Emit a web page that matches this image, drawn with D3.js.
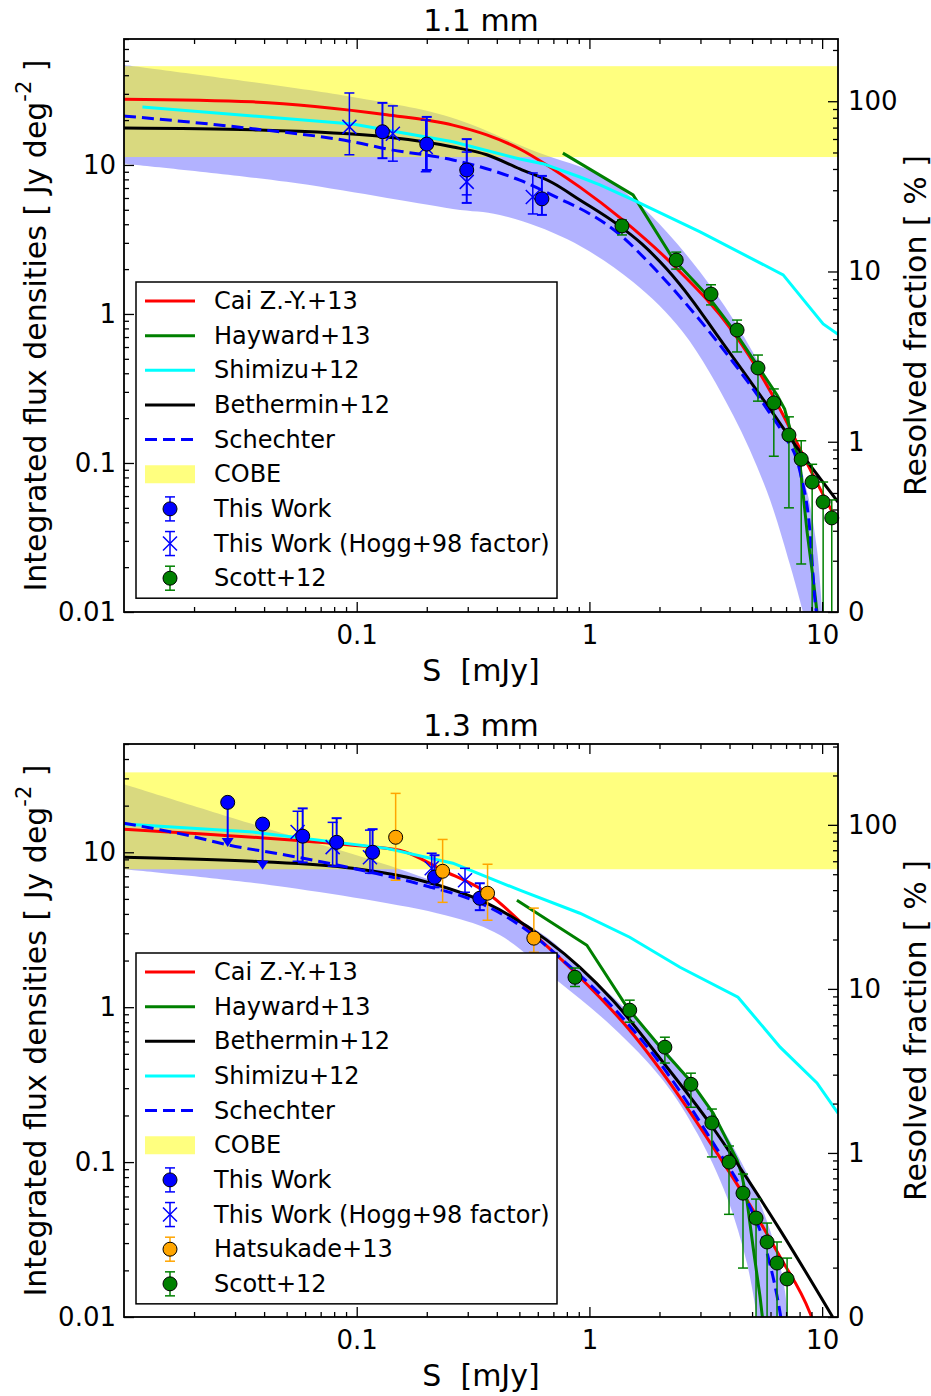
<!DOCTYPE html>
<html><head><meta charset="utf-8">
<script src="https://cdn.jsdelivr.net/npm/d3@7"></script>
<style>body{margin:0;background:#fff} text{font-family:"DejaVu Sans",sans-serif;fill:#000}</style>
</head><body><svg id="c" width="931" height="1396"></svg>
<script>
// ---------- tick labels ----------
const xTickValues = [0.1, 1, 10];
const xTickLabels = ["0.1", "1", "10"];
const yTickValues = [0.01, 0.1, 1, 10];
const yTickLabels = ["0.01", "0.1", "1", "10"];
const rTickValues = [0.1, 1, 10, 100];
const rTickLabels = ["0", "1", "10", "100"];

// ---------- 1.1 mm panel ----------
const cobe11 = [11.3, 46];
const bandU11 = [[0.01,46.9],[0.096,28.6],[0.251,21.0],[0.594,12.2],[1.11,8.57],[1.54,5.92],[2.15,3.55],[2.99,1.91],[4.14,0.925],[5.8,0.366],[7.28,0.161],[8.62,0.064],[9.5,0.0265],[10,0.01]];
const bandL11 = [[0.01,10.2],[0.05,7.7],[0.259,5.07],[0.412,4.62],[0.8,3.18],[1.54,1.64],[2.52,0.757],[4.14,0.21],[5.8,0.064],[7.28,0.0207],[8.28,0.01]];
const cai11 = [[0.01,27.6],[0.0357,26.5],[0.1345,21.7],[0.259,18.5],[0.362,15.9],[0.502,12.8],[0.697,9.4],[0.91,7.1],[1.39,4.28],[2.29,2.13],[4.14,0.757],[6.8,0.21],[8.04,0.124],[9.8,0.067],[11.7,0.040]];
const hayward11 = [[0.769,12.0],[1.54,6.29],[2.29,2.34],[3.2,1.34],[4.14,0.79],[5.25,0.455],[6.4,0.286],[6.9,0.23],[8.04,0.097],[8.62,0.0344],[9.15,0.0167],[9.5,0.01]];
const shimizu11 = [[0.012,24.5],[0.096,18.8],[0.259,14.3],[0.502,10.97],[0.631,10.2],[0.91,8.3],[1.11,7.34],[1.54,5.82],[2.99,3.55],[6.8,1.83],[10.1,0.857],[11.7,0.73]];
const bethermin11 = [[0.01,17.7],[0.0357,17.2],[0.1345,15.4],[0.259,13.2],[0.362,11.7],[0.502,9.4],[0.697,7.57],[0.91,5.82],[1.31,4.02],[1.68,2.95],[2.15,2.0],[2.76,1.24],[3.53,0.723],[4.53,0.421],[5.8,0.245],[8.04,0.119],[11.7,0.0547]];
const schechter11 = [[0.01,21.3],[0.0357,17.5],[0.096,14.3],[0.1345,12.8],[0.259,10.8],[0.502,7.9],[0.746,5.92],[1.005,4.69],[1.31,3.55],[1.82,2.17],[2.52,1.24],[4.14,0.476],[5.8,0.23],[6.8,0.157],[8.04,0.087],[8.87,0.0344],[9.33,0.0117],[9.45,0.01]];
// [S, value, upper, lower]
const thisWork11 = [[0.129,16.7,26.1,11.1],[0.2,13.8,21.0,9.25],[0.297,9.25,14.9,5.56],[0.625,5.92,8.44,4.62]];
const hogg11 = [[0.093,18.0,30.4,11.7],[0.143,16.2,24.9,10.6],[0.198,13.2,20.0,9.0],[0.297,7.7,12.2,6.3],[0.571,6.1,8.83,4.69]];
const scott11 = [[1.38,3.9,4.28,3.39],[2.36,2.30,2.6,2.0],[3.33,1.36,1.57,1.15],[4.31,0.78,0.91,0.556],[5.3,0.434,0.53,0.26],[6.2,0.253,0.314,0.111],[7.2,0.154,0.204,0.05],[8.13,0.106,0.141,0.021],[9.06,0.0745,0.098,0.001],[10.1,0.0547,0.0745,0.001],[11.0,0.0428,0.0565,0.001]];
const legend11 = ["Cai Z.-Y.+13","Hayward+13","Shimizu+12","Bethermin+12","Schechter","COBE","This Work","This Work (Hogg+98 factor)","Scott+12"];

// ---------- 1.3 mm panel ----------
const cobe13 = [7.77, 32.8];
const bandU13 = [[0.01,27.5],[0.0357,15.2],[0.149,7.88],[0.338,4.9],[0.656,2.83],[0.91,1.81],[1.49,0.915],[2.45,0.41],[3.4,0.207],[4.75,0.085],[5.97,0.0364],[6.8,0.0173],[7.14,0.01]];
const bandL13 = [[0.01,7.77],[0.05,5.94],[0.259,3.81],[0.412,2.92],[0.724,1.49],[1.26,0.743],[2.07,0.338],[2.9,0.154],[3.9,0.0594],[4.75,0.0223],[5.25,0.01]];
const cai13 = [[0.01,14.1],[0.0357,12.5],[0.096,11.1],[0.153,10.3],[0.234,7.65],[0.365,5.44],[0.571,3.0],[0.91,1.56],[1.49,0.71],[2.45,0.262],[3.4,0.125],[4.75,0.0569],[6.6,0.0244],[8.87,0.0106],[9.5,0.008]];
const hayward13 = [[0.488,4.9],[0.975,2.51],[1.45,1.0],[2.07,0.528],[2.7,0.338],[3.4,0.207],[4.31,0.103],[4.5,0.085],[4.75,0.0569],[5.05,0.0283],[5.41,0.0135],[5.55,0.0097]];
const bethermin13 = [[0.01,9.29],[0.0357,8.75],[0.096,7.88],[0.187,6.6],[0.362,4.69],[0.656,2.71],[0.91,1.81],[1.26,1.11],[2.07,0.442],[3.4,0.166],[4.75,0.0788],[6.6,0.0364],[11.1,0.01]];
const shimizu13 = [[0.01,15.2],[0.0357,13.5],[0.1345,10.6],[0.259,8.5],[0.502,5.69],[0.91,4.04],[1.49,2.83],[2.45,1.81],[4.35,1.16],[6.6,0.552],[9.5,0.324],[11.7,0.207]];
const schechter13 = [[0.01,15.4],[0.0186,12.9],[0.0284,11.1],[0.05,9.57],[0.096,7.88],[0.187,6.22],[0.362,4.49],[0.502,3.38],[0.769,2.01],[1.26,1.0],[2.07,0.41],[3.4,0.133],[4.75,0.0569],[5.8,0.0259],[6.6,0.0106],[6.8,0.008]];
const thisWork13 = [[0.0586,12.7,19.2,8.6],[0.082,11.6,16.6,8.12],[0.117,10.0,14.1,7.33],[0.216,6.9,9.57,5.94],[0.338,5.05,6.31,4.23]];
// upper limits [S, value, arrow tip]
const limits13 = [[0.0279,21.0,10.8],[0.0394,15.2,7.7]];
const hogg13 = [[0.0557,13.5,18.4,8.75],[0.0788,10.8,15.6,8.12],[0.114,9.29,13.9,7.33],[0.21,7.88,9.86,6.31],[0.292,6.6,7.88,5.52]];
const hats13 = [[0.147,12.5,24.0,6.6],[0.234,7.54,12.1,4.75],[0.365,5.44,8.37,3.64],[0.577,2.79,4.36,2.26]];
const scott13 = [[0.867,1.56,1.79,1.36],[1.49,0.957,1.11,0.80],[2.11,0.552,0.64,0.436],[2.73,0.318,0.375,0.226],[3.36,0.179,0.22,0.108],[3.98,0.1,0.127,0.046],[4.57,0.063,0.0837,0.0207],[5.2,0.0435,0.0577,0.001],[5.8,0.0305,0.0404,0.001],[6.4,0.0223,0.0305,0.001],[7.07,0.0176,0.024,0.001]];
const legend13 = ["Cai Z.-Y.+13","Hayward+13","Bethermin+12","Shimizu+12","Schechter","COBE","This Work","This Work (Hogg+98 factor)","Hatsukade+13","Scott+12"];

// ---------- layout ----------
const X0 = 124, X1 = 838;
const xDomain = [0.01, 11.7];
const styles = {
  "Cai Z.-Y.+13": {type:"line", color:"#ff0000"},
  "Hayward+13": {type:"line", color:"#008000"},
  "Shimizu+12": {type:"line", color:"#00ffff"},
  "Bethermin+12": {type:"line", color:"#000000"},
  "Schechter": {type:"line", color:"#0000ff", dash:"12,6"},
  "COBE": {type:"patch"},
  "This Work": {type:"circle", color:"#0000ff"},
  "This Work (Hogg+98 factor)": {type:"cross", color:"#0000ff"},
  "Hatsukade+13": {type:"circle", color:"#ffa500"},
  "Scott+12": {type:"circle", color:"#008000"}
};

const panels = [
  {top:39, bottom:612, yDom:[0.01,70], rDom:[0.1,232], title:"1.1 mm", cobe:cobe11, bandU:bandU11, bandL:bandL11,
   lines:[["Cai Z.-Y.+13",cai11,true],["Hayward+13",hayward11,false],["Shimizu+12",shimizu11,false],["Bethermin+12",bethermin11,true],["Schechter",schechter11,true]],
   thisWork:thisWork11, limits:[], hogg:hogg11, hats:[], scott:scott11, legend:legend11, legTop:282},
  {top:744, bottom:1317, yDom:[0.01,50], rDom:[0.1,311], title:"1.3 mm", cobe:cobe13, bandU:bandU13, bandL:bandL13,
   lines:[["Cai Z.-Y.+13",cai13,true],["Hayward+13",hayward13,false],["Bethermin+12",bethermin13,true],["Shimizu+12",shimizu13,false],["Schechter",schechter13,true]],
   thisWork:thisWork13, limits:limits13, hogg:hogg13, hats:hats13, scott:scott13, legend:legend13, legTop:953}
];

const svg = d3.select("#c");
const x = d3.scaleLog().domain(xDomain).range([X0, X1]);

function minorTicks(dom){
  const out=[];
  for(let e=-3;e<=3;e++){
    for(let m=2;m<=9;m++){
      const v=m*Math.pow(10,e);
      if(v>=dom[0] && v<=dom[1]) out.push(v);
    }
  }
  return out;
}

panels.forEach((p,pi)=>{
  const y = d3.scaleLog().domain(p.yDom).range([p.bottom, p.top]);
  const r = d3.scaleLog().domain(p.rDom).range([p.bottom, p.top]);
  const g = svg.append("g");
  const cid = "clip"+pi;
  svg.append("clipPath").attr("id",cid).append("rect")
    .attr("x",X0).attr("y",p.top).attr("width",X1-X0).attr("height",p.bottom-p.top);
  const plot = g.append("g").attr("clip-path",`url(#${cid})`);

  // uncertainty band
  const lc = d3.line().x(d=>x(d[0])).y(d=>y(d[1])).curve(d3.curveCatmullRom.alpha(0.5));
  const bandPath = lc(p.bandU) + lc(p.bandL.slice().reverse()).replace(/^M/,"L") + "Z";
  plot.append("path").attr("d",bandPath).attr("fill","#0000ff").attr("fill-opacity",0.3).attr("stroke","none");
  // COBE
  plot.append("rect").attr("x",X0).attr("width",X1-X0)
    .attr("y",y(p.cobe[1])).attr("height",y(p.cobe[0])-y(p.cobe[1]))
    .attr("fill","#ffff00").attr("fill-opacity",0.5);

  // model lines
  p.lines.forEach(([name,data,smooth])=>{
    const st=styles[name];
    const ln=d3.line().x(d=>x(d[0])).y(d=>y(d[1])).curve(smooth?d3.curveMonotoneX:d3.curveLinear);
    plot.append("path").attr("d",ln(data)).attr("fill","none").attr("stroke",st.color)
      .attr("stroke-width",3).attr("stroke-dasharray",st.dash||null);
  });

  // error bars
  function errbars(data,color,lw){
    data.forEach(d=>{
      const cx=x(d[0]);
      plot.append("line").attr("x1",cx).attr("x2",cx).attr("y1",y(d[2])).attr("y2",y(d[3]))
        .attr("stroke",color).attr("stroke-width",lw);
      [d[2],d[3]].forEach(v=>{
        if(v>p.yDom[0]) plot.append("line").attr("x1",cx-5).attr("x2",cx+5).attr("y1",y(v)).attr("y2",y(v))
          .attr("stroke",color).attr("stroke-width",lw);
      });
    });
  }
  function circles(data,color){
    data.forEach(d=>{
      g.append("circle").attr("cx",x(d[0])).attr("cy",y(d[1])).attr("r",7)
        .attr("fill",color).attr("stroke","#000").attr("stroke-width",1);
    });
  }
  // Hogg crosses
  errbars(p.hogg,"#0000ff",1.5);
  p.hogg.forEach(d=>{
    const cx=x(d[0]), cy=y(d[1]);
    g.append("path").attr("d",`M${cx-7},${cy-7}L${cx+7},${cy+7}M${cx-7},${cy+7}L${cx+7},${cy-7}`)
      .attr("stroke","#0000ff").attr("stroke-width",1.5).attr("fill","none");
  });
  // upper limits
  p.limits.forEach(d=>{
    const cx=x(d[0]), cy=y(d[1]), ty=y(d[2]);
    g.append("line").attr("x1",cx).attr("x2",cx).attr("y1",cy).attr("y2",ty-8)
      .attr("stroke","#0000ff").attr("stroke-width",2);
    g.append("path").attr("d",`M${cx-6},${ty-9}L${cx+6},${ty-9}L${cx},${ty}Z`).attr("fill","#0000ff");
  });
  errbars(p.thisWork,"#0000ff",2);
  circles(p.limits,"#0000ff");
  circles(p.thisWork,"#0000ff");
  errbars(p.hats,"#ffa500",1.5);
  circles(p.hats,"#ffa500");
  errbars(p.scott,"#008000",1.5);
  circles(p.scott,"#008000");

  // axes
  const fs = "26px";
  const axB = g.append("g").attr("transform",`translate(0,${p.bottom})`)
    .call(d3.axisBottom(x).tickValues(xTickValues).tickFormat((d,i)=>xTickLabels[i]).tickSize(-10).tickPadding(14));
  const axBm = g.append("g").attr("transform",`translate(0,${p.bottom})`)
    .call(d3.axisBottom(x).tickValues(minorTicks(xDomain)).tickFormat("").tickSize(-5));
  const axT = g.append("g").attr("transform",`translate(0,${p.top})`)
    .call(d3.axisTop(x).tickValues(xTickValues).tickFormat("").tickSize(-10));
  const axTm = g.append("g").attr("transform",`translate(0,${p.top})`)
    .call(d3.axisTop(x).tickValues(minorTicks(xDomain)).tickFormat("").tickSize(-5));
  const axL = g.append("g").attr("transform",`translate(${X0},0)`)
    .call(d3.axisLeft(y).tickValues(yTickValues).tickFormat((d,i)=>yTickLabels[i]).tickSize(-10).tickPadding(8));
  const axLm = g.append("g").attr("transform",`translate(${X0},0)`)
    .call(d3.axisLeft(y).tickValues(minorTicks(p.yDom)).tickFormat("").tickSize(-5));
  const axR = g.append("g").attr("transform",`translate(${X1},0)`)
    .call(d3.axisRight(r).tickValues(rTickValues).tickFormat((d,i)=>rTickLabels[i]).tickSize(-10).tickPadding(10));
  const axRm = g.append("g").attr("transform",`translate(${X1},0)`)
    .call(d3.axisRight(r).tickValues(minorTicks(p.rDom)).tickFormat("").tickSize(-5));
  [axB,axBm,axT,axTm,axL,axLm,axR,axRm].forEach(a=>{
    a.select(".domain").remove();
    a.selectAll(".tick line").attr("stroke","#000").attr("stroke-width",1.3);
    a.selectAll("text").attr("font-size",fs).attr("font-family","DejaVu Sans").attr("fill","#000");
  });

  // frame
  g.append("rect").attr("x",X0).attr("y",p.top).attr("width",X1-X0).attr("height",p.bottom-p.top)
    .attr("fill","none").attr("stroke","#000").attr("stroke-width",1.8);

  // titles & labels
  const cx=(X0+X1)/2, cy=(p.top+p.bottom)/2;
  g.append("text").attr("x",cx).attr("y",p.top-8).attr("text-anchor","middle").attr("font-size","30px").text(p.title);
  g.append("text").attr("x",cx).attr("y",p.bottom+69).attr("text-anchor","middle").attr("font-size","30px")
    .style("white-space","pre").text("S  [mJy]");
  const yl = g.append("text").attr("transform",`translate(35,${cy}) rotate(-90)`).attr("text-anchor","middle")
    .attr("dominant-baseline","central").attr("font-size","30px");
  yl.append("tspan").text("Integrated flux densities [ Jy deg");
  yl.append("tspan").attr("dy",-11).attr("font-size","21px").text("-2");
  yl.append("tspan").attr("dy",11).text(" ]");
  g.append("text").attr("transform",`translate(915,${cy}) rotate(-90)`).attr("text-anchor","middle")
    .attr("dominant-baseline","central").attr("font-size","30px").text("Resolved fraction [ % ]");

  // legend
  const n=p.legend.length, rowH=34.65;
  const lg=g.append("g");
  lg.append("rect").attr("x",136).attr("y",p.legTop).attr("width",421).attr("height",19*2+rowH*(n-1)+1)
    .attr("fill","#fff").attr("stroke","#000").attr("stroke-width",1.5);
  p.legend.forEach((name,i)=>{
    const ry=p.legTop+19+i*rowH, st=styles[name];
    if(st.type==="line"){
      lg.append("line").attr("x1",145).attr("x2",195).attr("y1",ry).attr("y2",ry)
        .attr("stroke",st.color).attr("stroke-width",3).attr("stroke-dasharray",st.dash||null);
    } else if(st.type==="patch"){
      lg.append("rect").attr("x",145).attr("y",ry-9).attr("width",50).attr("height",18)
        .attr("fill","#ffff00").attr("fill-opacity",0.5);
    } else {
      lg.append("line").attr("x1",170).attr("x2",170).attr("y1",ry-12).attr("y2",ry+12)
        .attr("stroke",st.color).attr("stroke-width",1.5);
      [ry-12,ry+12].forEach(v=>lg.append("line").attr("x1",165).attr("x2",175).attr("y1",v).attr("y2",v)
        .attr("stroke",st.color).attr("stroke-width",1.5));
      if(st.type==="circle"){
        lg.append("circle").attr("cx",170).attr("cy",ry).attr("r",7).attr("fill",st.color).attr("stroke","#000").attr("stroke-width",1);
      } else {
        lg.append("path").attr("d",`M163,${ry-7}L177,${ry+7}M163,${ry+7}L177,${ry-7}`)
          .attr("stroke",st.color).attr("stroke-width",1.5);
      }
    }
    lg.append("text").attr("x",214).attr("y",ry).attr("dominant-baseline","central")
      .attr("font-size","24px").text(name);
  });
});
</script>
</body></html>
